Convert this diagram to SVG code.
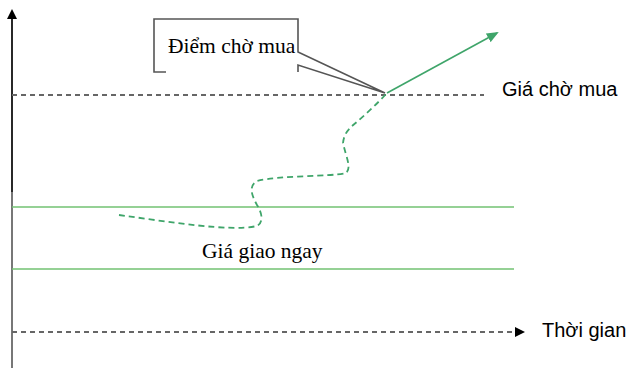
<svg xmlns="http://www.w3.org/2000/svg" width="632" height="368" viewBox="0 0 632 368">
<style>
.dash{stroke:#666;stroke-width:1.8;stroke-dasharray:5 4;fill:none}
.gline{stroke:#72c272;stroke-width:1.6;fill:none}
.arial{font-family:"Liberation Sans",Arial,sans-serif;font-size:20px;fill:#000}
.times{font-family:"Liberation Serif","Times New Roman",serif;font-size:21.5px;fill:#000}
</style>
<defs>
<marker id="blk" markerWidth="10" markerHeight="10" refX="5" refY="5" orient="auto" markerUnits="userSpaceOnUse">
<path d="M0,0 L10,5 L0,10 Z" fill="#000"/>
</marker>
<marker id="grn" markerWidth="12" markerHeight="10" refX="10" refY="5" orient="auto" markerUnits="userSpaceOnUse">
<path d="M0,0 L12,5 L0,10 Z" fill="#3fa56a"/>
</marker>
</defs>
<rect width="632" height="368" fill="#fff"/>
<g id="connectors">
<line id="y-axis-top" x1="12" y1="192" x2="12" y2="14" stroke="#111" stroke-width="1.8" marker-end="url(#blk)"/>
<line id="y-axis-bottom" x1="12" y1="192" x2="12" y2="368" stroke="#777" stroke-width="2"/>
<line id="time-axis" class="dash" x1="12" y1="332" x2="520" y2="332" marker-end="url(#blk)"/>
<line id="strike" class="dash" x1="12" y1="95" x2="484" y2="95"/>
<line class="gline" x1="12" y1="207" x2="514" y2="207"/>
<line class="gline" x1="12" y1="269" x2="514" y2="269"/>
<path id="price-path" d="M119,215 C170,222 230,232 257,226 C264,222 262,213 257,205 C252,196 248,186 257,181 C280,175 330,177 346,173 C352,168 346,157 343,143 C344,134 348,130 352,126 C364,116 377,104 387,93" stroke="#3fa56a" stroke-width="1.8" stroke-dasharray="6 4" fill="none"/>
<line id="rise" x1="387" y1="93" x2="497" y2="33" stroke="#3fa56a" stroke-width="1.6" marker-end="url(#grn)"/>
</g>
<g id="callout">
<path d="M166,72 H154 V19 H298 V52 L385,93 L298,65 V72" fill="none" stroke="#555" stroke-width="1.6"/>
<text class="times" x="168" y="53">Điểm chờ mua</text>
</g>
<g id="label-strike"><text class="arial" x="502" y="96" font-size="21">Giá chờ mua</text></g>
<g id="label-spot"><text class="times" x="202" y="258">Giá giao ngay</text></g>
<g id="label-time"><text class="arial" x="542" y="337">Thời gian</text></g>
</svg>
